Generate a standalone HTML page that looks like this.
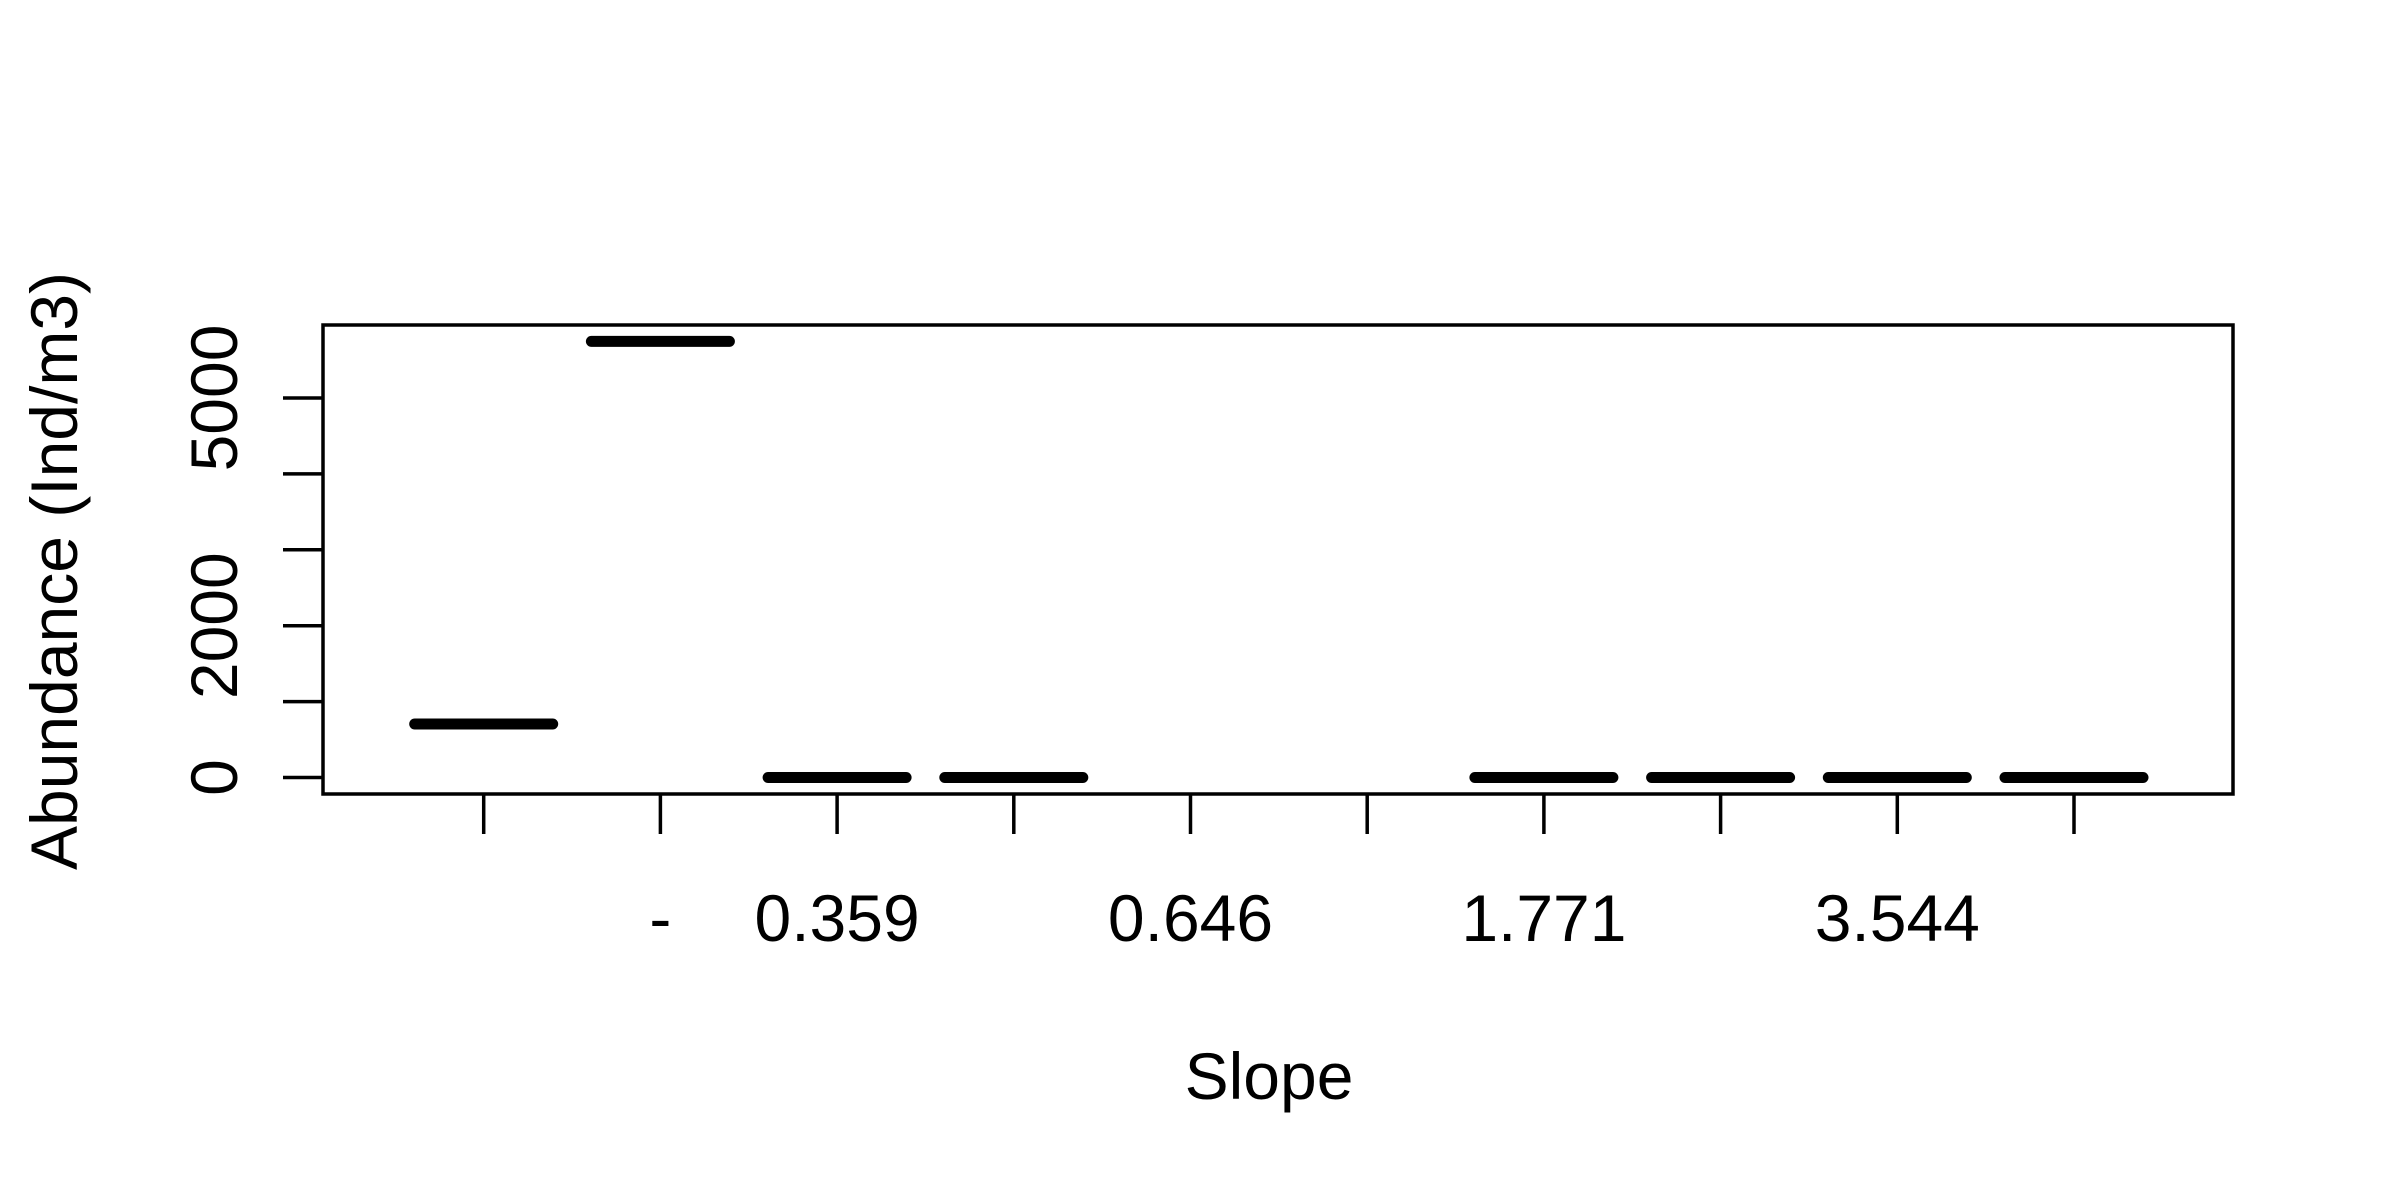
<!DOCTYPE html>
<html><head><meta charset="utf-8"><style>
html,body{margin:0;padding:0;background:#fff;}
svg{display:block;}
text{font-family:"Liberation Sans",Arial,sans-serif;fill:#000;}
</style></head><body>
<svg id="chart" width="2400" height="1200" viewBox="0 0 2400 1200" xmlns="http://www.w3.org/2000/svg">
<rect x="323" y="325" width="1910" height="469" fill="none" stroke="#000" stroke-width="3.5"/>
<g id="marks"></g>
<text x="1269" y="1099" font-size="66" text-anchor="middle">Slope</text>
<text transform="translate(77,571) rotate(-90)" font-size="66" text-anchor="middle">Abundance (Ind/m3)</text>
</svg>
<script>
const categories = ["", "-", "0.359", "", "0.646", "", "1.771", "", "3.544", ""];
const values = [705, 5746, 0, 0, null, null, 0, 0, 0, 0];
const yTicks = [0, 1000, 2000, 3000, 4000, 5000];
const yTickLabels = ["0", "", "2000", "", "", "5000"];

const NS = "http://www.w3.org/2000/svg";
const g = document.getElementById("marks");
const x0 = 483.7, step = 176.7;
function xPos(i){ return x0 + step * i; }
function yPos(v){ return 777.5 - v * 0.0759; }
function mk(tag, attrs){ const e = document.createElementNS(NS, tag); for (const k in attrs) e.setAttribute(k, attrs[k]); g.appendChild(e); return e; }

yTicks.forEach((t, i) => {
  const y = yPos(t);
  const l = mk("line", {x1: 283, x2: 323, y1: y, y2: y, stroke: "#000", "stroke-width": 3.5});
  
  
  if (yTickLabels[i]) {
    const tx = mk("text", {transform: "translate(237," + y + ") rotate(-90)", "font-size": 66, "text-anchor": "middle"});
    tx.textContent = yTickLabels[i];
    
    
  }
});

categories.forEach((c, i) => {
  const x = xPos(i);
  const l = mk("line", {x1: x, x2: x, y1: 794, y2: 834, stroke: "#000", "stroke-width": 3.5});
  
  
  if (c) {
    const tx = mk("text", {x: x, y: 941, "font-size": 66, "text-anchor": "middle"});
    tx.textContent = c;
    
    
  }
  const v = values[i];
  if (v !== null && v !== undefined) {
    const y = yPos(v);
    const b = mk("line", {x1: x - 69, x2: x + 69, y1: y, y2: y, stroke: "#000", "stroke-width": 11, "stroke-linecap": "round"});
    
    
  }
});
</script>
</body></html>
